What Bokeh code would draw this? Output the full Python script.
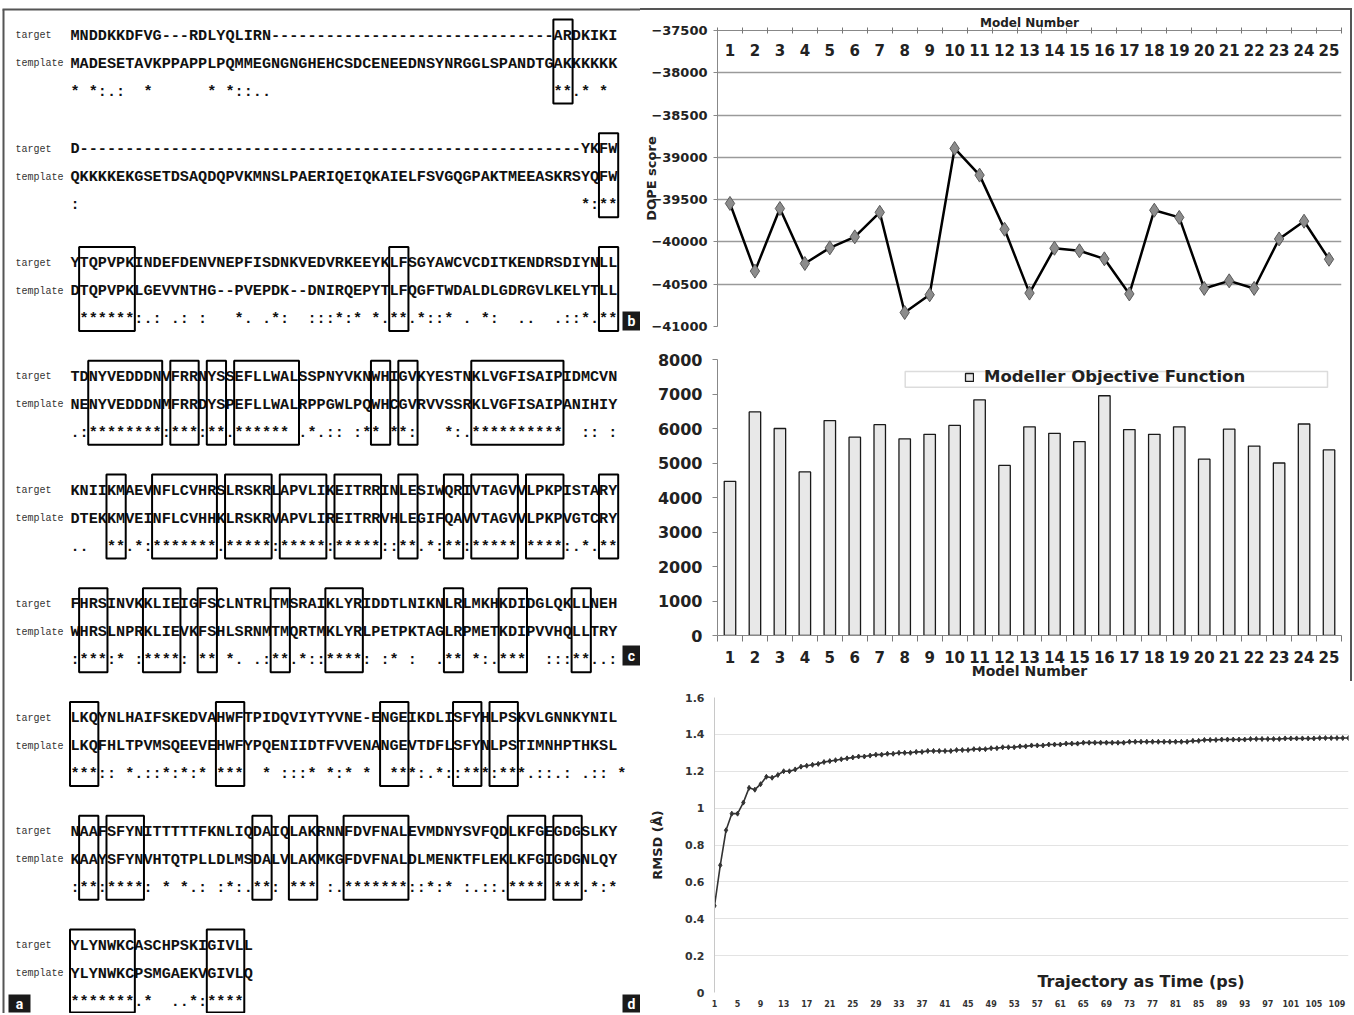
from bokeh.plotting import figure
from bokeh.layouts import row, column
from bokeh.models import (Range1d, FixedTicker, Legend, LegendItem, BoxAnnotation,
                          Label, CustomJSTickFormatter, Spacer)
from bokeh.core.properties import value
from bokeh.embed import file_html
from bokeh.resources import INLINE

# ---------------- panel a : sequence alignment ----------------
target_rows = [
    "MNDDKKDFVG---RDLYQLIRN-------------------------------ARDKIKI",
    "D-------------------------------------------------------YKFW",
    "YTQPVPKINDEFDENVNEPFISDNKVEDVRKEEYKLFSGYAWCVCDITKENDRSDIYNLL",
    "TDNYVEDDDNVFRRNYSSEFLLWALSSPNYVKNWHIGVKYESTNKLVGFISAIPIDMCVN",
    "KNIIKMAEVNFLCVHRSLRSKRLAPVLIKEITRRINLESIWQRIVTAGVVLPKPISTARY",
    "FHRSINVKKLIEIGFSCLNTRLTMSRAIKLYRIDDTLNIKNLRLMKHKDIDGLQKLLNEH",
    "LKQYNLHAIFSKEDVAHWFTPIDQVIYTYVNE-ENGEIKDLISFYHLPSKVLGNNKYNIL",
    "NAAFSFYNITTTTTFKNLIQDAIQLAKRNNFDVFNALEVMDNYSVFQDLKFGEGDGSLKY",
    "YLYNWKCASCHPSKIGIVLL",
]
template_rows = [
    "MADESETAVKPPAPPLPQMMEGNGNGHEHCSDCENEEDNSYNRGGLSPANDTGAKKKKKK",
    "QKKKKEKGSETDSAQDQPVKMNSLPAERIQEIQKAIELFSVGQGPAKTMEEASKRSYQFW",
    "DTQPVPKLGEVVNTHG--PVEPDK--DNIRQEPYTLFQGFTWDALDLGDRGVLKELYTLL",
    "NENYVEDDDNMFRRDYSPEFLLWALRPPGWLPQWHCGVRVVSSRKLVGFISAIPANIHIY",
    "DTEKKMVEINFLCVHHKLRSKRVAPVLIREITRRVHLEGIFQAVVTAGVVLPKPVGTCRY",
    "WHRSLNPRKLIEVKFSHLSRNMTMQRTMKLYRLPETPKTAGLRPMETKDIPVVHQLLTRY",
    "LKQFHLTPVMSQEEVEHWFYPQENIIDTFVVENANGEVTDFLSFYNLPSTIMNHPTHKSL",
    "KAAYSFYNVHTQTPLLDLMSDALVLAKMKGFDVFNALDLMENKTFLEKLKFGIGDGNLQY",
    "YLYNWKCPSMGAEKVGIVLQ",
]
consensus_rows = [
    "* *:.:  *      * *::..                               **.* * ",
    ":                                                       *:**",
    " ******:.: .: :   *. .*:  :::*:* *.**.*::* . *:  ..  .::*.**",
    ".:********:***:**.****** .*.:: :** **:   *:.**********  :: : ",
    "..  **.*:*******.*****:*****:*****::**.*:**:***** ****:.*.**",
    ":***:* :****: ** *. .:**.*::****: :* :  .** *:.***  :::**..:",
    "***:: *.::*:*:* ***  * :::* *:* *  ***:.*::***:***.::.: .:: *",
    ":**:****: * *.: :*:.**: *** :.*******::*:* :.::.**** ***.*:*",
    "*******.*  ..*:**** ",
]
box_runs = [
    [(54, 55)],
    [(59, 60)],
    [(2, 7), (36, 37), (59, 60)],
    [(3, 10), (12, 14), (16, 17), (19, 25), (34, 35), (37, 38), (45, 54)],
    [(5, 6), (10, 16), (18, 22), (24, 28), (30, 34), (37, 38), (42, 43), (45, 49), (51, 54), (59, 60)],
    [(2, 4), (9, 12), (15, 16), (23, 24), (29, 32), (42, 43), (48, 50), (56, 57)],
    [(1, 3), (17, 19), (35, 37), (43, 45), (47, 49)],
    [(2, 3), (5, 8), (21, 22), (25, 27), (31, 37), (49, 52), (54, 56)],
    [(1, 7), (16, 19)],
]
row_names = ["target", "template"]
panel_letters = ["a", "b", "c", "d"]

# ---------------- panel b : DOPE score ----------------
models = list(range(1, 26))
model_labels = [str(m) for m in models]
dope = [-39545, -40345, -39605, -40255, -40070, -39940, -39650, -40835, -40625, -38895,
        -39210, -39850, -40605, -40075, -40105, -40200, -40615, -39625, -39710, -40550,
        -40460, -40550, -39965, -39755, -40205]
dope_ticks = [-41000, -40500, -40000, -39500, -39000, -38500, -38000, -37500]

# ---------------- panel c : Modeller objective function ----------------
objective = [4470, 6480, 6000, 4740, 6230, 5750, 6110, 5700, 5830, 6090,
             6830, 4930, 6050, 5860, 5620, 6950, 5970, 5830, 6050, 5110,
             5980, 5490, 5000, 6130, 5380]
obj_ticks = [0, 1000, 2000, 3000, 4000, 5000, 6000, 7000, 8000]

# ---------------- panel d : RMSD trajectory ----------------
time_ps = list(range(1, 112))
rmsd = [0.47, 0.69, 0.88, 0.97, 0.97, 1.03, 1.11, 1.10, 1.13, 1.17,
        1.165, 1.18, 1.20, 1.20, 1.21, 1.225, 1.23, 1.235, 1.24, 1.25,
        1.255, 1.26, 1.265, 1.27, 1.275, 1.28, 1.28, 1.285, 1.29, 1.29,
        1.295, 1.295, 1.30, 1.30, 1.30, 1.305, 1.305, 1.31, 1.31, 1.31,
        1.31, 1.31, 1.315, 1.315, 1.315, 1.32, 1.32, 1.32, 1.325, 1.325,
        1.33, 1.33, 1.33, 1.335, 1.335, 1.34, 1.34, 1.34, 1.345, 1.345,
        1.345, 1.35, 1.35, 1.35, 1.355, 1.355, 1.355, 1.355, 1.355, 1.355,
        1.355, 1.355, 1.36, 1.36, 1.36, 1.36, 1.36, 1.36, 1.36, 1.36,
        1.36, 1.36, 1.36, 1.365, 1.365, 1.37, 1.37, 1.37, 1.372, 1.372,
        1.372, 1.372, 1.372, 1.375, 1.375, 1.375, 1.375, 1.375, 1.375, 1.378,
        1.378, 1.378, 1.378, 1.378, 1.378, 1.38, 1.38, 1.38, 1.38, 1.38, 1.38]
time_ticks = [1, 5, 9, 13, 17, 21, 25, 29, 33, 37, 41, 45, 49, 53, 57, 61, 65, 69,
              73, 77, 81, 85, 89, 93, 97, 101, 105, 109]
rmsd_ticks = [0, 0.2, 0.4, 0.6, 0.8, 1.0, 1.2, 1.4, 1.6]

# =====================================================================
SANS_NAME = "DejaVu Sans"
SANS = value(SANS_NAME)
MONO = value("Liberation Mono")
NBSP = "\u00a0"

TOTAL_H = 1013
LEFT_W = 640
RIGHT_W = 712
VLINE_W = 2
INNER_W = RIGHT_W - VLINE_W

# ---- panel a figure (pixel coordinate canvas) ----
CW = 9.12
X0 = 70
Y0 = 35
BDY = 113.75
RDY = 28

pa = figure(width=LEFT_W, height=TOTAL_H, x_range=Range1d(0, LEFT_W), y_range=Range1d(TOTAL_H, 0),
            output_backend="svg", toolbar_location=None,
            x_axis_location=None, y_axis_location=None, min_border=0)
pa.grid.visible = False
pa.outline_line_color = None

ys_t = [Y0 + i * BDY for i in range(len(target_rows))]
ys_m = [y + RDY for y in ys_t]
ys_c = [y + 2 * RDY for y in ys_t]
cons_text = [s.replace(" ", NBSP) for s in consensus_rows]

for ys, rows in ((ys_t, target_rows), (ys_m, template_rows), (ys_c, cons_text)):
    pa.text(x=[X0] * len(rows), y=ys, text=rows, text_font=MONO, text_font_size="15.2px",
            text_font_style="bold", text_baseline="middle", text_align="left", text_color="#111111")

pa.text(x=[15] * len(ys_t), y=ys_t, text=[row_names[0]] * len(ys_t), text_font=MONO,
        text_font_size="10px", text_baseline="middle", text_color="#333333")
pa.text(x=[15] * len(ys_m), y=ys_m, text=[row_names[1]] * len(ys_m), text_font=MONO,
        text_font_size="10px", text_baseline="middle", text_color="#333333")

bl, br, bt, bb = [], [], [], []
for i, runs in enumerate(box_runs):
    for (s, e) in runs:
        bl.append(X0 + (s - 1) * CW - 0.5)
        br.append(X0 + e * CW + 0.5)
        bt.append(ys_t[i] - 16)
        bb.append(min(ys_c[i] + 12, TOTAL_H - 1))
pa.quad(left=bl, right=br, top=bt, bottom=bb, fill_color=None, line_color="#000000", line_width=2)

# frame lines
pa.segment(x0=[3, 2], y0=[9, 9], x1=[3, LEFT_W], y1=[TOTAL_H, 9], line_color="#555555", line_width=2)

# panel letters
lab_l = [8, 622, 622, 622]
lab_r = [30, 640, 640, 640]
lab_t = [994, 311, 645, 994]
lab_b = [TOTAL_H - 1, 330, 665, TOTAL_H - 1]
pa.quad(left=lab_l, right=lab_r, top=lab_t, bottom=lab_b, fill_color="#1a1a1a", line_color=None)
pa.text(x=[(l + r) / 2 for l, r in zip(lab_l, lab_r)], y=[(t + b) / 2 for t, b in zip(lab_t, lab_b)],
        text=panel_letters, text_font=value("Roboto"), text_font_size="14px", text_font_style="bold",
        text_align="center", text_baseline="middle", text_color="white")

# ---- panel b ----
bounds = [m - 0.5 for m in models] + [models[-1] + 0.5]
pb = figure(width=INNER_W, height=330, x_range=Range1d(0.5, 25.5), y_range=Range1d(-41000, -37500),
            x_axis_location="above", output_backend="svg", toolbar_location=None,
            min_border_left=76, min_border_right=9, min_border_top=20, min_border_bottom=14)
pb.outline_line_color = None
pb.xgrid.visible = False
pb.ygrid.ticker = FixedTicker(ticks=dope_ticks)
pb.ygrid.grid_line_color = "#9a9a9a"
pb.ygrid.grid_line_width = 1.5

xa = pb.xaxis[0]
xa.ticker = FixedTicker(ticks=[], minor_ticks=bounds)
xa.major_tick_out = 0
xa.major_tick_in = 0
xa.minor_tick_in = 3
xa.minor_tick_out = 3
xa.minor_tick_line_color = "#777777"
xa.major_label_standoff = 0
xa.axis_line_color = "#888888"
xa.axis_label = "Model Number"
xa.axis_label_text_font = SANS_NAME
xa.axis_label_text_font_size = "12px"
xa.axis_label_text_font_style = "bold"
xa.axis_label_standoff = -2
xa.axis_label_text_color = "#222222"

ya = pb.yaxis[0]
ya.ticker = FixedTicker(ticks=dope_ticks)
ya.major_label_text_font = SANS_NAME
ya.major_label_text_font_size = "13px"
ya.major_label_text_font_style = "bold"
ya.major_label_text_color = "#222222"
ya.major_tick_out = 4
ya.major_tick_in = 0
ya.minor_tick_out = 0
ya.major_label_standoff = 6
ya.axis_line_color = "#888888"
ya.major_tick_line_color = "#888888"
ya.axis_label = "DOPE score"
ya.axis_label_text_font = SANS_NAME
ya.axis_label_text_font_size = "13px"
ya.axis_label_text_font_style = "bold"
ya.axis_label_standoff = -11
ya.axis_label_text_color = "#222222"

pb.text(x=models, y=[-37725] * len(models), text=model_labels, text_font=SANS,
        text_font_size="15px", text_font_style="bold", text_align="center",
        text_baseline="middle", text_color="#222222")
pb.line(models, dope, line_color="black", line_width=2.5)
pb.scatter(models, dope, marker="diamond", size=14, fill_color="#8c8c8c", line_color="#5a5a5a")

# ---- panel c ----
pc = figure(width=INNER_W, height=341, x_range=Range1d(0.5, 25.5), y_range=Range1d(0, 8000),
            output_backend="svg", toolbar_location=None,
            min_border_left=77, min_border_right=5, min_border_top=19, min_border_bottom=44)
pc.outline_line_color = None
pc.grid.visible = False

box = BoxAnnotation(left=8.02, right=24.94, bottom=7194, top=7655, fill_color="white",
                    fill_alpha=1.0, line_color="#8a8a8a", line_width=1.5)
pc.add_layout(box)

bars = pc.vbar(x=models, top=objective, width=0.46, bottom=0, fill_color="#e8e8e8",
               line_color="#1a1a1a", line_width=1.3)

cx = pc.xaxis[0]
cx.ticker = FixedTicker(ticks=models, minor_ticks=bounds)
cx.major_tick_out = 0
cx.major_tick_in = 0
cx.minor_tick_out = 6
cx.minor_tick_in = 0
cx.minor_tick_line_color = "#777777"
cx.axis_line_color = "#888888"
cx.major_label_standoff = 9
cx.major_label_text_font = SANS_NAME
cx.major_label_text_font_size = "15px"
cx.major_label_text_font_style = "bold"
cx.major_label_text_color = "#222222"
cx.axis_label = "Model Number"
cx.axis_label_text_font = SANS_NAME
cx.axis_label_text_font_size = "14px"
cx.axis_label_text_font_style = "bold"
cx.axis_label_standoff = -3
cx.axis_label_text_color = "#222222"

cy = pc.yaxis[0]
cy.ticker = FixedTicker(ticks=obj_ticks)
cy.major_label_text_font = SANS_NAME
cy.major_label_text_font_size = "16px"
cy.major_label_text_font_style = "bold"
cy.major_label_text_color = "#222222"
cy.major_tick_out = 5
cy.major_tick_in = 0
cy.minor_tick_out = 0
cy.major_label_standoff = 10
cy.axis_line_color = "#888888"
cy.major_tick_line_color = "#888888"

legend = Legend(items=[LegendItem(label="Modeller Objective Function", renderers=[bars])],
                location=(247, 249), padding=0, margin=0, border_line_color=None,
                background_fill_alpha=0.0, glyph_width=10, glyph_height=10,
                label_standoff=10, label_text_font=SANS_NAME, label_text_font_size="16.5px",
                label_text_font_style="bold", label_text_color="#222222", label_height=16)
pc.add_layout(legend)

# ---- panel d ----
pdd = figure(width=RIGHT_W, height=TOTAL_H - 681, x_range=Range1d(1, 111), y_range=Range1d(0, 1.6),
             output_backend="svg", toolbar_location=None,
             min_border_left=74, min_border_right=4, min_border_top=16, min_border_bottom=21)
pdd.outline_line_color = None
pdd.xgrid.visible = False
pdd.ygrid.ticker = FixedTicker(ticks=rmsd_ticks)
pdd.ygrid.grid_line_color = "#e3e3e3"

dx = pdd.xaxis[0]
dx.ticker = FixedTicker(ticks=time_ticks)
dx.axis_line_color = None
dx.major_tick_out = 0
dx.major_tick_in = 0
dx.minor_tick_out = 0
dx.major_label_standoff = 7
dx.major_label_text_font = SANS_NAME
dx.major_label_text_font_size = "8px"
dx.major_label_text_font_style = "bold"
dx.major_label_text_color = "#333333"

dy = pdd.yaxis[0]
dy.ticker = FixedTicker(ticks=rmsd_ticks)
dy.formatter = CustomJSTickFormatter(code="return String(Math.round(tick * 10) / 10);")
dy.major_label_text_font = SANS_NAME
dy.major_label_text_font_size = "11px"
dy.major_label_text_font_style = "bold"
dy.major_label_text_color = "#333333"
dy.major_tick_out = 0
dy.major_tick_in = 0
dy.minor_tick_out = 0
dy.major_label_standoff = 10
dy.axis_line_color = "#c8c8c8"
dy.axis_label = "RMSD (Å)"
dy.axis_label_text_font = SANS_NAME
dy.axis_label_text_font_size = "13px"
dy.axis_label_text_font_style = "bold"
dy.axis_label_standoff = 17
dy.axis_label_text_color = "#222222"

pdd.line(time_ps, rmsd, line_color="#333333", line_width=1.6)
pdd.scatter(time_ps, rmsd, marker="diamond", size=5, fill_color="#333333", line_color="#333333")

pdd.add_layout(Label(x=75, y=0.0, y_offset=2, text="Trajectory as Time (ps)", text_font=SANS_NAME,
                     text_font_size="16px", text_font_style="bold", text_align="center",
                     text_baseline="bottom", text_color="#222222"))

top_gap = Spacer(width=RIGHT_W, height=8)
top_rule = Spacer(width=RIGHT_W, height=2, styles={"background-color": "#555555"})
right_rule = Spacer(width=VLINE_W, height=330 + 341, styles={"background-color": "#555555"})

layout = row(pa, column(top_gap, top_rule, row(column(pb, pc), right_rule), pdd))
open("out.html", "w").write(file_html(layout, INLINE))
